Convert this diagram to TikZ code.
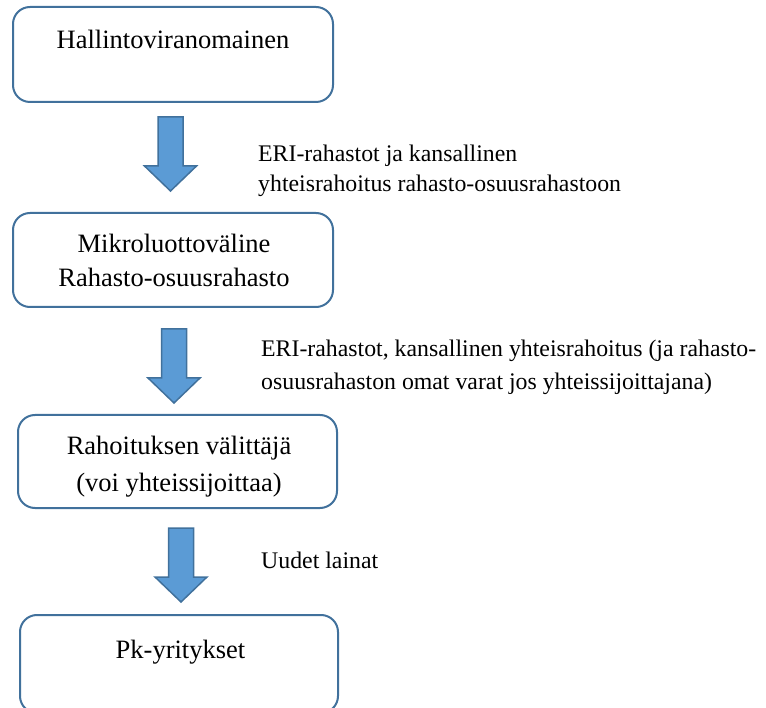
\documentclass[tikz,border=0pt]{standalone}
\usepackage{fontspec}
\setmainfont{Liberation Serif}
\definecolor{edgeblue}{RGB}{65,113,156}
\definecolor{fillblue}{RGB}{91,155,213}
\tikzset{
  stagebox/.style={draw=edgeblue, line width=2pt, rounded corners=17pt,
    inner sep=0pt, fill=white},
  boxtext/.style={inner sep=0pt, align=center, anchor=base,
    font=\fontsize{26.5}{#1}\selectfont},
  boxtext/.default=35,
  flowlabel/.style={inner sep=0pt, align=left, anchor=base west,
    font=\fontsize{23.8}{#1}\selectfont},
  flowlabel/.default=31,
  blockarrow/.pic={
    \draw[draw=edgeblue, fill=fillblue, line width=1.5pt, line join=miter]
      (-12.5,0) -- (12.5,0) -- (12.5,49) -- (26,49) -- (0,74)
      -- (-26,49) -- (-12.5,49) -- cycle;
  }
}
\begin{document}
\begin{tikzpicture}[x=1pt, y=-1pt]
  \useasboundingbox (0,0) rectangle (766,708);

  % stages
  \node[stagebox, minimum width=320pt, minimum height=95pt] (authority) at (173,54.5) {};
  \node[stagebox, minimum width=320pt, minimum height=94pt] (fund) at (173,260) {};
  \node[stagebox, minimum width=319pt, minimum height=93pt] (intermediary) at (177.5,461.5) {};
  \node[stagebox, minimum width=318pt, minimum height=98pt] (smes) at (179,664) {};

  % stage texts (anchor is the baseline of the last line)
  \node[boxtext] (authoritytext) at (173,49) {Hallintoviranomainen};
  \node[boxtext=34] (fundtext) at (174,287) {Mikroluottoväline\\Rahasto-osuusrahasto};
  \node[boxtext=37] (intermediarytext) at (179,492) {Rahoituksen välittäjä\\(voi yhteissijoittaa)};
  \node[boxtext] (smestext) at (180.5,658) {Pk-yritykset};

  % block arrows between stages
  \pic (flowA) at (170.5,117) {blockarrow};
  \pic (flowB) at (174,329) {blockarrow};
  \pic (flowC) at (181,528) {blockarrow};

  % flow descriptions
  \node[flowlabel=30] (labelA) at (258,192) {ERI-rahastot ja kansallinen\\yhteisrahoitus rahasto-osuusrahastoon};
  \node[flowlabel=33] (labelB) at (261,390) {ERI-rahastot, kansallinen yhteisrahoitus (ja rahasto-\\osuusrahaston omat varat jos yhteissijoittajana)};
  \node[flowlabel] (labelC) at (261,568) {Uudet lainat};
\end{tikzpicture}
\end{document}
